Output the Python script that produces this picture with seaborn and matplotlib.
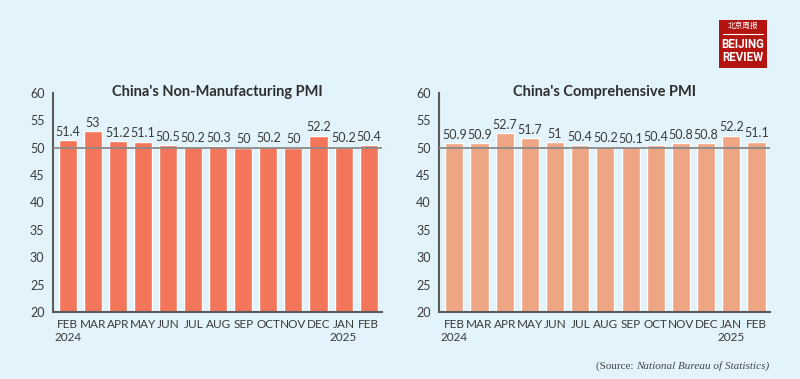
import numpy as np
import pandas as pd
import matplotlib.pyplot as plt
import seaborn as sns
from matplotlib.patches import Rectangle

# dados
meses = ["FEB\n2024", "MAR", "APR", "MAY", "JUN", "JUL", "AUG", "SEP",
         "OCT", "NOV", "DEC", "JAN\n2025", "FEB"]
non_manufacturing = [51.4, 53, 51.2, 51.1, 50.5, 50.2, 50.3, 50, 50.2, 50, 52.2, 50.2, 50.4]
comprehensive = [50.9, 50.9, 52.7, 51.7, 51, 50.4, 50.2, 50.1, 50.4, 50.8, 50.8, 52.2, 51.1]
titulos = ["China's Non-Manufacturing PMI", "China's Comprehensive PMI"]
cores = ["#F3755A", "#EEA584"]

bg = "#E2F3FB"
texto = "#3A3A3A"

sns.set_theme(style="white")
plt.rcParams['font.family'] = ['Lato', 'DejaVu Sans']

fig = plt.figure(figsize=(8, 3.79), dpi=100, facecolor=bg)
ax1 = fig.add_axes([0.066, 0.177, 0.412, 0.578])
ax2 = fig.add_axes([0.549, 0.177, 0.414, 0.578])

for ax, vals, titulo, cor in zip([ax1, ax2], [non_manufacturing, comprehensive], titulos, cores):
    df = pd.DataFrame({'Mes': meses, 'PMI': vals})
    ax.set_facecolor(bg)
    sns.barplot(data=df, x='Mes', y='PMI', color=cor, saturation=1, width=0.72,
                ax=ax, zorder=2)
    ax.axhline(50, color="#8A8A8A", lw=1.3, zorder=3)
    for i, v in enumerate(vals):
        ax.text(i, v + 0.4, f"{v:g}", ha='center', va='bottom', fontsize=9, color=texto, zorder=4)
    ax.set_ylim(20, 60)
    ax.set_yticks(range(20, 61, 5))
    ax.set_xlim(-0.6, len(meses) - 0.45)
    ax.set_xlabel('')
    ax.set_ylabel('')
    ax.tick_params(axis='both', length=0, labelsize=8.5, colors=texto)
    ax.tick_params(axis='y', pad=6, labelsize=9)
    ax.tick_params(axis='x', pad=5)
    for s in ['top', 'right']:
        ax.spines[s].set_visible(False)
    for s in ['left', 'bottom']:
        ax.spines[s].set_color("#5A5A5A")
        ax.spines[s].set_linewidth(1.5)
    ax.text(0.5, 1.005, titulo, transform=ax.transAxes, ha='center', va='center',
            fontsize=10.5, fontweight='bold', color="#2E2E2E")

# logo
fig.patches.append(Rectangle((719 / 800, 1 - 68 / 379), 48 / 800, 48 / 379,
                             transform=fig.transFigure, facecolor="#B3140F", edgecolor='none'))
fig.text(743 / 800, 1 - 27 / 379, "北京周报", ha='center', va='center', fontsize=5.5,
         color='white', family=['Noto Sans CJK SC', 'DejaVu Sans'])
fig.add_artist(plt.Line2D([723 / 800, 763 / 800], [1 - 34 / 379, 1 - 34 / 379],
                          color='white', lw=0.8, transform=fig.transFigure))
fig.text(743 / 800, 1 - 51 / 379, "BEIJING\nREVIEW", ha='center', va='center', fontsize=8.3,
         color='white', fontweight='bold',
         family=['Liberation Sans Narrow', 'Roboto', 'DejaVu Sans'], linespacing=0.95)

# fonte
fig.canvas.draw()
fonte = fig.text(0.962, 1 - 366 / 379, "National Bureau of Statistics)", ha='right', va='center',
                 fontsize=8, color="#444444", family=['Liberation Serif'], style='italic')
bb = fonte.get_window_extent(fig.canvas.get_renderer())
fig.text(bb.x0 / fig.bbox.width, 1 - 366 / 379, "(Source: ", ha='right', va='center',
         fontsize=8, color="#444444", family=['Liberation Serif'])

fig.savefig("out.png", dpi=100, facecolor=bg)
